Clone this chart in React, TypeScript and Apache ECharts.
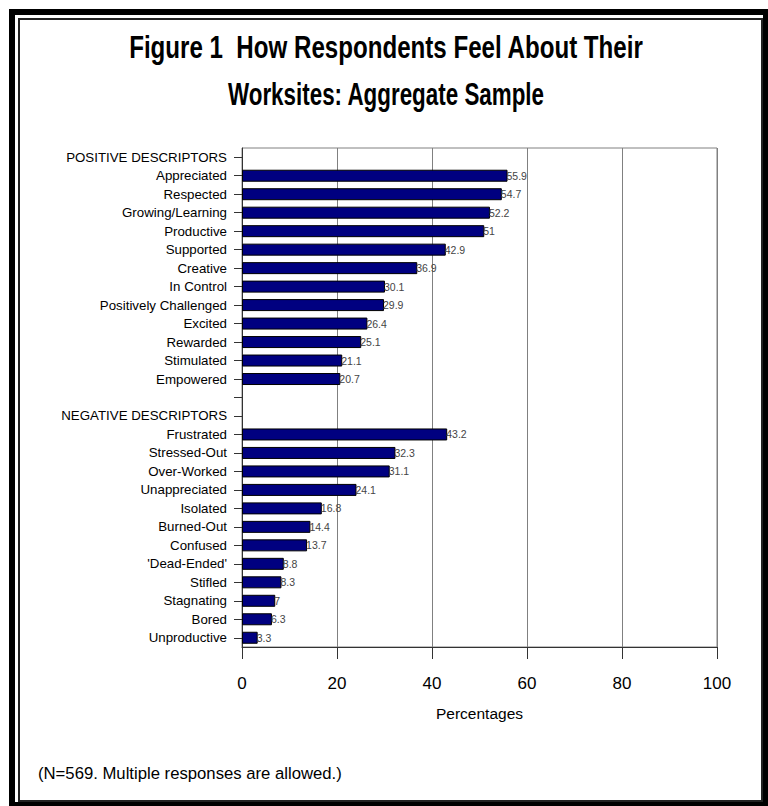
import React, { useEffect, useRef } from "react";
import * as echarts from "echarts";

const FONT = '"Liberation Sans", Arial, sans-serif';

const titleLines = ["Figure 1\u00a0 How Respondents Feel About Their", "Worksites: Aggregate Sample"];
const positiveHeader = "POSITIVE DESCRIPTORS";
const negativeHeader = "NEGATIVE DESCRIPTORS";

const positiveLabels = [
  "Appreciated",
  "Respected",
  "Growing/Learning",
  "Productive",
  "Supported",
  "Creative",
  "In Control",
  "Positively Challenged",
  "Excited",
  "Rewarded",
  "Stimulated",
  "Empowered",
];
const positiveValues = [55.9, 54.7, 52.2, 51, 42.9, 36.9, 30.1, 29.9, 26.4, 25.1, 21.1, 20.7];

const negativeLabels = [
  "Frustrated",
  "Stressed-Out",
  "Over-Worked",
  "Unappreciated",
  "Isolated",
  "Burned-Out",
  "Confused",
  "'Dead-Ended'",
  "Stifled",
  "Stagnating",
  "Bored",
  "Unproductive",
];
const negativeValues = [43.2, 32.3, 31.1, 24.1, 16.8, 14.4, 13.7, 8.8, 8.3, 7, 6.3, 3.3];

const xTicks = [0, 20, 40, 60, 80, 100];
const xAxisName = "Percentages";
const footnote = "(N=569. Multiple responses are allowed.)";

export default function App() {
  const ref = useRef<HTMLDivElement>(null);

  useEffect(() => {
    document.body.style.margin = "0";
    if (!ref.current) return;
    const chart = echarts.init(ref.current, null, { renderer: "svg" });

    // Header rows and a spacer row carry no bar.
    const categories = [positiveHeader, ...positiveLabels, "", negativeHeader, ...negativeLabels];
    const values: (number | string)[] = ["-", ...positiveValues, "-", "-", ...negativeValues];

    // Tall, narrow title lines: a regular bold face squeezed horizontally.
    const titleY = [47, 94];
    const titleScale = [0.754, 0.7];
    const titleTexts = titleLines.map((t, i) => ({
      type: "text",
      x: 386,
      y: titleY[i],
      scaleX: titleScale[i],
      silent: true,
      style: {
        text: t,
        align: "center",
        verticalAlign: "middle",
        fontFamily: FONT,
        fontSize: 32,
        fontWeight: "bold",
        fill: "#000",
      },
    }));

    chart.setOption({
      animation: false,
      backgroundColor: "#ffffff",
      grid: {
        left: 242,
        top: 148,
        width: 475,
        height: 499,
        show: true,
        borderColor: "#808080",
        borderWidth: 1,
        backgroundColor: "transparent",
      },
      xAxis: {
        type: "value",
        min: xTicks[0],
        max: xTicks[xTicks.length - 1],
        interval: 20,
        name: xAxisName,
        nameLocation: "middle",
        nameGap: 58,
        nameTextStyle: { fontFamily: FONT, fontSize: 15.5, color: "#000" },
        axisLine: { show: true, lineStyle: { color: "#333", width: 1 } },
        axisTick: { show: true, length: 12, lineStyle: { color: "#333" } },
        axisLabel: { fontFamily: FONT, fontSize: 17, color: "#000", margin: 28 },
        splitLine: { show: true, lineStyle: { color: "#808080", width: 1 } },
      },
      yAxis: {
        type: "category",
        inverse: true,
        data: categories,
        axisLine: { show: true, lineStyle: { color: "#333", width: 1 } },
        axisTick: { show: true, alignWithLabel: true, length: 8, interval: 0, lineStyle: { color: "#333" } },
        axisLabel: { fontFamily: FONT, fontSize: 13.3, color: "#000", margin: 15, interval: 0 },
        splitLine: { show: false },
      },
      series: [
        {
          type: "bar",
          data: values,
          barWidth: 12,
          itemStyle: { color: "#000080", borderColor: "#000", borderWidth: 1 },
          label: {
            show: true,
            position: "right",
            distance: -1,
            fontFamily: FONT,
            fontSize: 10.5,
            color: "#444",
            formatter: (p: any) => String(p.value),
          },
        },
      ],
      graphic: [
        {
          type: "rect",
          shape: { x: 12, y: 12, width: 754, height: 793 },
          style: { fill: "none", stroke: "#000", lineWidth: 6 },
          silent: true,
        },
        {
          type: "rect",
          shape: { x: 19, y: 19, width: 743, height: 782 },
          style: { fill: "none", stroke: "#222", lineWidth: 2 },
          silent: true,
        },
        ...titleTexts,
        {
          type: "text",
          x: 38,
          y: 773,
          silent: true,
          style: {
            text: footnote,
            verticalAlign: "middle",
            fontFamily: FONT,
            fontSize: 16.7,
            fill: "#000",
          },
        },
      ],
    });

    return () => chart.dispose();
  }, []);

  return <div ref={ref} style={{ width: 768, height: 806 }} />;
}
